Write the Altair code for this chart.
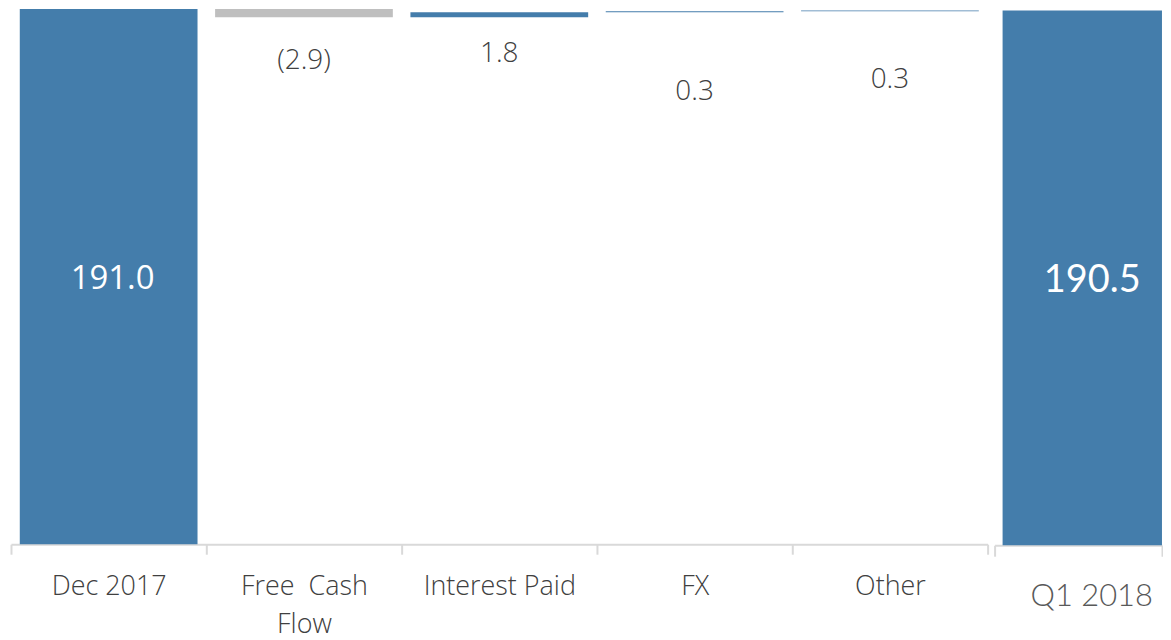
import altair as alt
import pandas as pd

# ---- data ----
categories = ["Dec 2017", "Free  Cash Flow", "Interest Paid", "FX", "Other"]
values = [191.0, -2.9, 1.8, 0.3, 0.3]
kinds = ["total", "decrease", "increase", "increase", "increase"]
final_category = "Q1 2018"
final_value = 190.5

BLUE = "#447DAB"
GREY = "#BFBFBF"
TEXT = "#404040"

rows = []
running = 0.0
for c, v, k in zip(categories, values, kinds):
    if k == "total":
        start, end = 0.0, v
        running = v
    else:
        start, end = running, running + v
        running = end
    label = f"({abs(v):.1f})" if v < 0 else f"{v:.1f}"
    rows.append(dict(cat=c, start=start, end=end, kind=k, label=label,
                     mid=(start + end) / 2, low=min(start, end)))
df = pd.DataFrame(rows)
final_df = pd.DataFrame([dict(cat=final_category, start=0.0, end=final_value,
                              label=f"{final_value:.1f}", mid=final_value / 2)])

ydom = alt.Scale(domain=[0, 191], nice=False, zero=True)

x_main = alt.X(
    "cat:N", sort=categories, title=None,
    scale=alt.Scale(paddingInner=0, paddingOuter=0),
    axis=alt.Axis(labelAngle=0, labelFont="Open Sans", labelFontSize=27, labelFontWeight=300,
                  labelColor=TEXT, domainColor="#D9D9D9", tickColor="#D9D9D9",
                  tickSize=10, tickWidth=2, domainWidth=2, tickBand="extent",
                  labelPadding=19, labelLineHeight=39,
                  labelExpr="datum.label == 'Free  Cash Flow' ? ['Free\u00a0 Cash', 'Flow'] : datum.label"),
)

base = alt.Chart(df)
bars = base.mark_bar(width=alt.RelativeBandSize(0.91)).encode(
    x=x_main,
    y=alt.Y("end:Q", scale=ydom, axis=None),
    y2="start:Q",
    color=alt.Color("kind:N", legend=None,
                    scale=alt.Scale(domain=["total", "increase", "decrease"],
                                    range=[BLUE, BLUE, GREY])),
)
total_text = base.transform_filter("datum.kind == 'total'").mark_text(
    font="Open Sans", fontSize=33, color="white", baseline="middle", dx=4, dy=2
).encode(x=alt.X("cat:N", sort=categories), y=alt.Y("mid:Q", scale=ydom), text="label:N")

label_dy = {"Free  Cash Flow": 44, "Interest Paid": 37, "FX": 80, "Other": 69}
delta_layers = []
for cat, dy in label_dy.items():
    delta_layers.append(
        base.transform_filter(alt.datum.cat == cat).mark_text(
            font="Open Sans", fontSize=28, fontWeight=300, color=TEXT, baseline="middle", dy=dy
        ).encode(x=alt.X("cat:N", sort=categories), y=alt.Y("low:Q", scale=ydom), text="label:N")
    )

main = alt.layer(bars, total_text, *delta_layers).properties(width=980, height=537)

x_final = alt.X(
    "cat:N", title=None,
    scale=alt.Scale(paddingInner=0, paddingOuter=0),
    axis=alt.Axis(labelAngle=0, labelFont="Lato", labelFontSize=31, labelFontWeight=300,
                  labelColor="#595959", domainColor="#D9D9D9", tickColor="#D9D9D9",
                  tickSize=11, tickWidth=2, domainWidth=2, tickBand="extent",
                  labelPadding=25, labelOffset=13),
)
fbase = alt.Chart(final_df)
fbar = fbase.mark_bar(color=BLUE, width=alt.RelativeBandSize(0.952), xOffset=4).encode(
    x=x_final, y=alt.Y("end:Q", scale=ydom, axis=None), y2="start:Q"
)
ftext = fbase.mark_text(font="Lato", fontSize=38, color="white", baseline="middle", dx=14, dy=3).encode(
    x="cat:N", y=alt.Y("mid:Q", scale=ydom), text="label:N"
)
final = alt.layer(fbar, ftext).properties(width=168, height=538)

chart = alt.hconcat(main, final, spacing=5).properties(
    padding={"left": 2, "top": 0, "right": 0, "bottom": 0}
).configure_view(stroke=None).configure_concat(spacing=5)

chart.save("out.html", embed_options={"renderer": "svg", "actions": False})
